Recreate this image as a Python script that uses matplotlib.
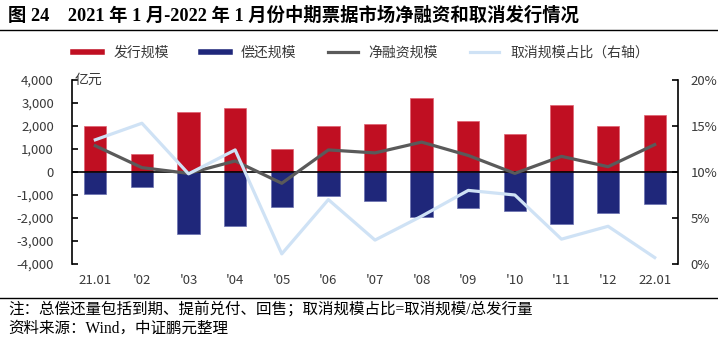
import numpy as np
import matplotlib
matplotlib.use("Agg")
import matplotlib.pyplot as plt
from matplotlib.lines import Line2D
from matplotlib.ticker import FuncFormatter

plt.rcParams['font.family'] = ['Noto Sans CJK SC', 'DejaVu Sans']
plt.rcParams['axes.unicode_minus'] = False

months = ['21.01', "'02", "'03", "'04", "'05", "'06", "'07", "'08", "'09", "'10", "'11", "'12", '22.01']
issue = [2000, 800, 2600, 2800, 1000, 2000, 2100, 3200, 2200, 1650, 2900, 2000, 2500]
repay = [-950, -650, -2700, -2350, -1500, -1050, -1280, -1950, -1550, -1700, -2250, -1800, -1400]
net = [1140, 190, -60, 480, -490, 960, 830, 1300, 720, -60, 680, 230, 1190]
cancel_pct = [13.5, 15.3, 9.8, 12.4, 1.1, 7.0, 2.6, 5.2, 8.0, 7.5, 2.7, 4.1, 0.7]

red = '#C00F22'
navy = '#1F277A'
gray = '#5A5A5A'
light = '#CFE2F5'
tick_col = '#3A3A3A'

W, H = 718, 342
fig = plt.figure(figsize=(W / 100, H / 100), dpi=100)
ax = fig.add_axes([72 / W, 1 - 264 / H, (678 - 72) / W, (264 - 80) / H])
ax2 = ax.twinx()

x = np.arange(len(months))
ax.bar(x, issue, width=0.48, color=red, edgecolor='#E06070', linewidth=0.5, zorder=2)
ax.bar(x, repay, width=0.48, color=navy, edgecolor='#6A70B0', linewidth=0.5, zorder=2)
ax.axhline(0, color='black', lw=1.2, zorder=3)
ax.plot(x, net, color=gray, lw=2.3, zorder=4)
ax2.plot(x, cancel_pct, color=light, lw=2.3)

ax.set_xlim(-0.5, 12.5)
ax.set_ylim(-4000, 4000)
ax.set_yticks(np.arange(-4000, 4001, 1000))
ax.yaxis.set_major_formatter(FuncFormatter(lambda v, p: f'{v:,.0f}'))
ax2.set_ylim(0, 20)
ax2.set_yticks([0, 5, 10, 15, 20])
ax2.yaxis.set_major_formatter(FuncFormatter(lambda v, p: f'{v:.0f}%'))
ax.set_xticks(x)
ax.set_xticklabels(months)

for a in (ax, ax2):
    for s in ['top', 'bottom']:
        a.spines[s].set_visible(False)
ax.spines['right'].set_visible(False)
ax2.spines['left'].set_visible(False)
ax.spines['left'].set_linewidth(1.2)
ax2.spines['right'].set_linewidth(1.2)

ax.tick_params(axis='y', direction='in', length=4, width=1.2, pad=13, labelsize=9.5, labelcolor=tick_col)
ax.tick_params(axis='x', length=0, pad=7, labelsize=9.5, labelcolor=tick_col)
ax2.tick_params(axis='y', direction='in', length=4, width=1.2, pad=9, labelsize=9.5, labelcolor=tick_col)

ax.text(3 / (678 - 72), 1.0, '亿元', transform=ax.transAxes, fontsize=10, color=tick_col, va='center', ha='left')

handles = [Line2D([], [], color=red, lw=4), Line2D([], [], color=navy, lw=4),
           Line2D([], [], color=gray, lw=2.3), Line2D([], [], color=light, lw=2.3)]
labels = ['发行规模', '偿还规模', '净融资规模', '取消规模占比（右轴）']
fig.legend(handles, labels, loc='center left', bbox_to_anchor=(73 / W, 1 - 53 / H), ncol=4,
           frameon=False, borderpad=0, borderaxespad=0, fontsize=10, handlelength=2.1,
           handletextpad=0.8, columnspacing=2.3, labelcolor=tick_col)

serif = ['Liberation Serif', 'Noto Sans CJK SC']
fig.text(8 / W, 1 - 16 / H, '图 24    2021 年 1 月-2022 年 1 月份中期票据市场净融资和取消发行情况',
         fontsize=13.2, fontweight='bold', family=serif, va='center', ha='left')
fig.add_artist(Line2D([0, 1], [1 - 30 / H, 1 - 30 / H], transform=fig.transFigure, color='black', lw=1))
fig.add_artist(Line2D([0, 1], [1 - 298 / H, 1 - 298 / H], transform=fig.transFigure, color='black', lw=1))
fig.text(8 / W, 1 - 311 / H, '注：总偿还量包括到期、提前兑付、回售；取消规模占比=取消规模/总发行量',
         fontsize=11.2, family=serif, va='center', ha='left')
fig.text(8 / W, 1 - 329 / H, '资料来源：Wind，中证鹏元整理',
         fontsize=11.2, family=serif, va='center', ha='left')

fig.savefig('out.png', dpi=100)
